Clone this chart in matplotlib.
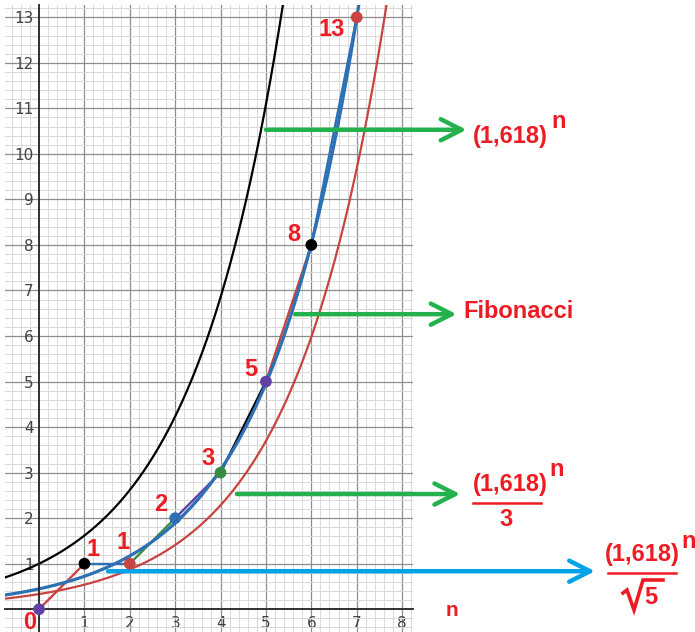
import numpy as np
import matplotlib.pyplot as plt
from matplotlib.lines import Line2D

W, H = 695, 632
phi = 1.618

# fibonacci points
fib_n = [0, 1, 2, 3, 4, 5, 6, 7]
fib_v = [0, 1, 1, 2, 3, 5, 8, 13]
fib_txt = ['0', '1', '1', '2', '3', '5', '8', '13']
# where each red number sits (data units)
txt_x = [-0.2, 1.19, 1.85, 2.69, 3.72, 4.67, 5.62, 6.45]
txt_y = [-0.3, 1.32, 1.47, 2.29, 3.32, 5.27, 8.22, 12.73]

# desmos-like colour cycle
red = '#c74440'
blue = '#2d70b3'
green = '#388c46'
purple = '#6042a6'
black = '#000000'
seg_colors = [red, blue, green, purple, black, red, blue]
pt_colors = [purple, black, red, blue, green, purple, black, red]

lbl_red = '#ed1c24'
arr_green = '#22b14c'
arr_blue = '#00a2e8'

# arrows: start (data), end x (data), colour
arr_start = [(5.0, 10.53), (5.64, 6.48), (4.36, 2.53), (1.52, 0.835)]
arr_end_x = [9.42, 9.2, 9.28, 12.25]
arr_col = [arr_green, arr_green, arr_green, arr_blue]

fig = plt.figure(figsize=(W / 100, H / 100), dpi=100)
ax = fig.add_axes([5 / W, 0, 408 / W, 627 / H])
ax.set_xlim(-0.75, 8.24)
ax.set_ylim(-0.5, 13.27)

ax.set_xticks(range(1, 9))
ax.set_yticks(range(1, 14))
ax.set_xticks(np.arange(-0.6, 8.3, 0.2), minor=True)
ax.set_yticks(np.arange(-0.4, 13.3, 0.2), minor=True)
ax.grid(True, which='major', color='#8e8e8e', lw=0.9)
ax.grid(True, which='minor', color='#d9d9d9', lw=0.7)
ax.set_axisbelow(True)
ax.tick_params(which='both', length=0)
ax.tick_params(axis='x', pad=5, labelsize=11, labelcolor='#444444')
ax.tick_params(axis='y', pad=4, labelsize=11, labelcolor='#444444')
for lab in ax.get_xticklabels() + ax.get_yticklabels():
    lab.set_family('Liberation Sans')

ax.spines['left'].set_position(('data', 0))
ax.spines['bottom'].set_position(('data', 0))
ax.spines['right'].set_visible(False)
ax.spines['top'].set_visible(False)
for s in ['left', 'bottom']:
    ax.spines[s].set_linewidth(1.3)
    ax.spines[s].set_color('#222222')

n = np.linspace(-0.8, 8.3, 600)
ax.plot(n, phi ** n, color=black, lw=1.6)
ax.plot(n, phi ** n / 3, color=red, lw=1.6)

for i in range(len(fib_n) - 1):
    ax.plot(fib_n[i:i + 2], fib_v[i:i + 2], color=seg_colors[i], lw=1.7)

ax.plot(n, phi ** n / np.sqrt(5), color=blue, lw=2.3)

ax.scatter(fib_n, fib_v, c=pt_colors, s=55, zorder=5, clip_on=False)

for tx, ty, t in zip(txt_x, txt_y, fib_txt):
    ax.text(tx, ty, t, color=lbl_red, fontsize=17, fontweight='bold',
            family='Liberation Sans', ha='center', va='center', clip_on=False)

for (sx, sy), ex, c in zip(arr_start, arr_end_x, arr_col):
    ax.annotate('', xy=(ex, sy), xytext=(sx, sy), annotation_clip=False,
                arrowprops=dict(arrowstyle='->,head_length=0.75,head_width=0.38',
                                color=c, lw=3.2, mutation_scale=20,
                                shrinkA=0, shrinkB=0))


def fp(x, y):
    return x / W, 1 - y / H


rtxt = dict(color=lbl_red, fontsize=17, fontweight='bold', family='Liberation Sans')

# (1,618)^n
fig.text(*fp(473, 136), '(1,618)', ha='left', va='center', **rtxt)
fig.text(*fp(551, 121), 'n', ha='left', va='center', **rtxt)

fig.text(*fp(463, 311), 'Fibonacci', ha='left', va='center', **rtxt)

# (1,618)^n / 3
fig.text(*fp(473, 485), '(1,618)', ha='left', va='center', **rtxt)
fig.text(*fp(549, 469), 'n', ha='left', va='center', **rtxt)
fig.add_artist(Line2D([473 / W, 541 / W], [1 - 503 / H, 1 - 503 / H],
                      color=lbl_red, lw=1.8))
fig.text(*fp(506, 520), '3', ha='center', va='center', **rtxt)

# (1,618)^n / sqrt(5)
fig.text(*fp(605, 555), '(1,618)', ha='left', va='center', **rtxt)
fig.text(*fp(681, 541), 'n', ha='left', va='center', **rtxt)
fig.add_artist(Line2D([608 / W, 676 / W], [1 - 573 / H, 1 - 573 / H],
                      color=lbl_red, lw=1.8))
rad_x = [623, 627, 634, 643, 663]
rad_y = [593, 590, 610, 580, 580]
fig.add_artist(Line2D([x / W for x in rad_x], [1 - y / H for y in rad_y],
                      color=lbl_red, lw=2.6, solid_joinstyle='miter'))
fig.text(*fp(651, 597), '5', ha='center', va='center', **rtxt)

# axis name
fig.text(*fp(452, 611), 'n', ha='center', va='center', color=lbl_red,
         fontsize=15, fontweight='bold', family='Liberation Sans')

fig.savefig('out.png', dpi=100)
